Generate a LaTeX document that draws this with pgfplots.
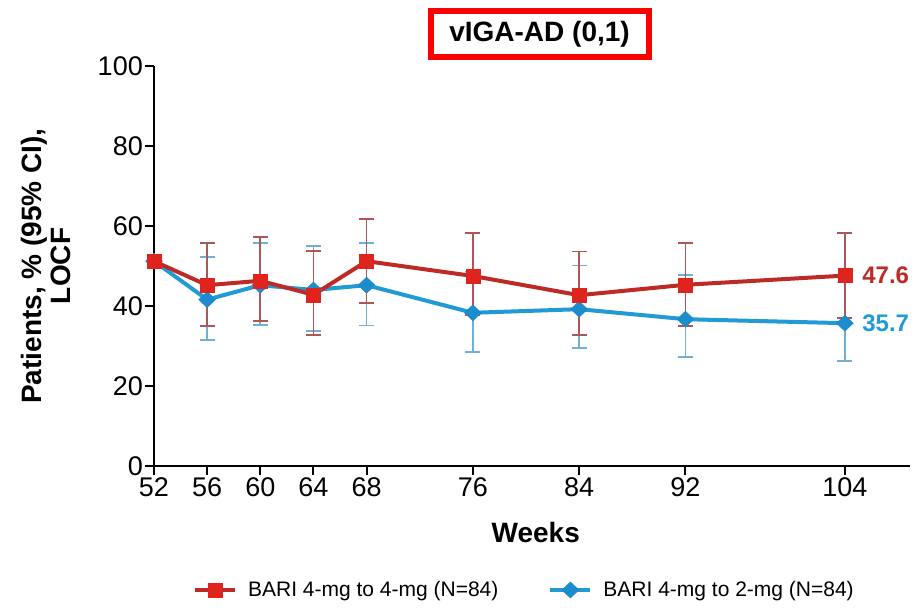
\documentclass[border=0pt]{standalone}
\usepackage{fontspec}
\setmainfont{Liberation Sans}
\usepackage{pgfplots}
\pgfplotsset{compat=1.18}
\usepackage{pgfplotstable}

\definecolor{redline}{RGB}{190,42,38}
\definecolor{redmark}{RGB}{222,36,28}
\definecolor{rederr}{RGB}{172,88,88}
\definecolor{blueline}{RGB}{34,154,214}
\definecolor{bluemark}{RGB}{28,140,205}
\definecolor{blueerr}{RGB}{112,176,212}

% week, percentage, upper and lower CI half-widths
\pgfplotstableread{
week y    ep   em
52   51.2 0    0
56   45.2 10.6 10.2
60   46.3 10.9 10.1
64   42.8 11.0 10.1
68   51.2 10.6 10.5
76   47.5 10.7 9.8
84   42.7 10.9 10.0
92   45.3 10.5 10.3
104  47.6 10.6 10.6
}\fourtofour

\pgfplotstableread{
week y    ep   em
52   51.2 0    0
56   41.6 10.7 10.1
60   45.2 10.6 10.0
64   44.0 11.0 10.2
68   45.2 10.6 10.1
76   38.3 10.3 9.8
84   39.2 10.9 9.7
92   36.7 11.1 9.5
104  35.7 10.2 9.4
}\fourtotwo

\begin{document}
\begin{tikzpicture}
\begin{axis}[
  scale only axis, width=756pt, height=400pt,
  xmin=52, xmax=108.9, ymin=0, ymax=100,
  axis lines=left,
  axis line style={-, line width=2.4pt, black},
  xtick={52,56,60,64,68,76,84,92,104},
  ytick={0,20,...,100},
  tick align=outside, major tick length=9pt,
  tick style={line width=2pt, black},
  ticklabel style={font=\fontsize{27}{32}\selectfont, inner sep=2pt},
  /pgf/number format/assume math mode=true,
  clip=false,
  xlabel={Weeks},
  xlabel style={at={(rel axis cs:0.505,-0.1675)}, anchor=center,
    font=\bfseries\fontsize{28}{32}\selectfont},
  ylabel={Patients, \% (95\% CI),\\LOCF},
  ylabel style={at={(rel axis cs:-0.143,0.5)}, anchor=center, rotate=0,
    align=center, font=\bfseries\fontsize{28}{29}\selectfont},
  legend columns=2,
  reverse legend,
  legend style={draw=none, fill=none, at={(rel axis cs:0.49,-0.31)}, anchor=center,
    font=\fontsize{21}{24}\selectfont,
    /tikz/every even column/.append style={column sep=48pt}},
  legend image code/.code={%
    \draw[mark repeat=2, mark phase=2, #1] plot coordinates {(0pt,0pt) (20pt,0pt) (40pt,0pt)};},
]

% BARI 4-mg to 2-mg
\addplot[blueline, line width=4pt,
  mark=diamond*, mark size=8pt,
  mark options={fill=bluemark, draw=bluemark, line width=0.5pt, xscale=1.4},
  error bars/.cd, y dir=both, y explicit,
  error bar style={line width=1.6pt, blueerr},
  error mark options={rotate=90, mark size=7.5pt, line width=1.6pt, blueerr}]
  table[x=week, y=y, y error plus=ep, y error minus=em] {\fourtotwo};
\addlegendentry{\hspace{9pt}BARI 4-mg to 2-mg (N=84)}

% BARI 4-mg to 4-mg
\addplot[redline, line width=4pt,
  mark=square*, mark size=7pt,
  mark options={fill=redmark, draw=redmark, line width=0.5pt},
  error bars/.cd, y dir=both, y explicit,
  error bar style={line width=1.6pt, rederr},
  error mark options={rotate=90, mark size=7.5pt, line width=1.6pt, rederr}]
  table[x=week, y=y, y error plus=ep, y error minus=em] {\fourtofour};
\addlegendentry{\hspace{9pt}BARI 4-mg to 4-mg (N=84)}

\node[anchor=west, inner sep=0pt, text=redline, font=\bfseries\fontsize{24}{28}\selectfont]
  at (axis cs:105.3,47.6) {47.6};
\node[anchor=west, inner sep=0pt, text=blueline, font=\bfseries\fontsize{24}{28}\selectfont]
  at (axis cs:105.3,35.7) {35.7};

\node[draw=red, line width=6pt, minimum width=218pt, minimum height=46pt, inner sep=0pt,
  font=\bfseries\fontsize{28}{32}\selectfont]
  at (rel axis cs:0.51,1.0788) {vIGA-AD (0,1)};

\coordinate (bbsw) at (rel axis cs:-0.2037,-0.355);
\coordinate (bbne) at (rel axis cs:1.0053,1.165);
\end{axis}
\pgfresetboundingbox
\path[use as bounding box] (bbsw) rectangle (bbne);
\end{tikzpicture}
\end{document}
